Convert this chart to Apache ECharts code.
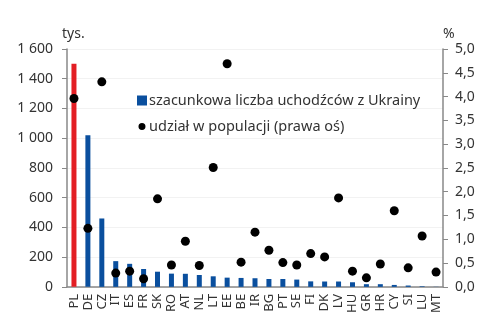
<!DOCTYPE html>
<html>
<head>
<meta charset="utf-8">
<script src="https://cdn.jsdelivr.net/npm/echarts@6/dist/echarts.min.js"></script>
<style>
  html, body { margin: 0; padding: 0; background: #fff; }
  #main { width: 492px; height: 316px; }
</style>
</head>
<body>
<div id="main"></div>
<script>
// kraje
var countries = ['PL', 'DE', 'CZ', 'IT', 'ES', 'FR', 'SK', 'RO', 'AT', 'NL', 'LT', 'EE', 'BE', 'IR',
  'BG', 'PT', 'SE', 'FI', 'DK', 'LV', 'HU', 'GR', 'HR', 'CY', 'SI', 'LU', 'MT'];
// szacunkowa liczba uchodzcow, tys.
var refugees = [1500, 1020, 460, 173, 155, 120, 102, 89, 88, 80, 71, 62, 60, 58,
  53, 53, 49, 37, 36, 36, 31, 18, 18, 13, 9, 4, 1];
// udzial w populacji, %
var share = [3.96, 1.23, 4.31, 0.29, 0.33, 0.17, 1.85, 0.46, 0.96, 0.45, 2.51, 4.69, 0.52, 1.15,
  0.77, 0.51, 0.46, 0.70, 0.63, 1.87, 0.33, 0.19, 0.48, 1.60, 0.40, 1.07, 0.31];
var leftTicks = [0, 1600, 200];
var rightTicks = [0, 5, 0.5];

var font = 'Noto Sans';
var textColor = '#333';
var axisColor = '#888';

var barData = refugees.map(function (v, i) {
  return i == 0 ? { value: v, itemStyle: { color: '#e31e24' } } : v;
});

var chart = echarts.init(document.getElementById('main'), null, { renderer: 'canvas' });
chart.setOption({
  animation: false,
  textStyle: { fontFamily: font },
  grid: { left: 67, right: 49, top: 49, bottom: 27 },
  legend: {
    orient: 'vertical',
    left: 132,
    top: 88,
    itemGap: 11,
    itemWidth: 10,
    itemHeight: 10,
    textStyle: { fontFamily: font, fontSize: 14.5, color: textColor, padding: [0, 0, 0, -3] },
    data: [
      { name: 'szacunkowa liczba uchodźców z Ukrainy', icon: 'rect' },
      // mniejsza kropka w legendzie
      { name: 'udział w populacji (prawa oś)', icon: 'path://M0,0L0.01,0M10,10L10.01,10M5,1.5A3.5,3.5,0,1,1,4.99,1.5Z' }
    ]
  },
  xAxis: {
    type: 'category',
    data: countries,
    axisLine: { lineStyle: { color: axisColor, width: 1.5 } },
    axisTick: { length: 5, lineStyle: { color: axisColor } },
    axisLabel: { rotate: 90, interval: 0, margin: 7, fontSize: 13, color: textColor, fontFamily: font }
  },
  yAxis: [{
    type: 'value',
    name: 'tys.',
    nameGap: 8,
    nameTextStyle: { fontSize: 14, color: textColor, align: 'left', padding: [0, 0, 0, -5], fontFamily: font },
    min: leftTicks[0], max: leftTicks[1], interval: leftTicks[2],
    axisLine: { show: true, lineStyle: { color: axisColor, width: 1.5 } },
    axisTick: { show: true, length: 5, lineStyle: { color: axisColor } },
    splitLine: { lineStyle: { color: '#f2f2f2' } },
    axisLabel: {
      fontSize: 14, color: textColor, margin: 14, fontFamily: font,
      formatter: function (v) { return String(v).replace(/\B(?=(\d{3})+(?!\d))/g, ' '); }
    }
  }, {
    type: 'value',
    name: '%',
    nameGap: 8,
    nameTextStyle: { fontSize: 14, color: textColor, align: 'left', fontFamily: font },
    min: rightTicks[0], max: rightTicks[1], interval: rightTicks[2],
    axisLine: { show: true, lineStyle: { color: axisColor, width: 1.5 } },
    axisTick: { show: true, length: 5, lineStyle: { color: axisColor } },
    splitLine: { show: false },
    axisLabel: {
      fontSize: 14, color: textColor, margin: 12, fontFamily: font,
      formatter: function (v) { return v.toFixed(1).replace('.', ','); }
    }
  }],
  series: [{
    name: 'szacunkowa liczba uchodźców z Ukrainy',
    type: 'bar',
    data: barData,
    barWidth: 5,
    itemStyle: { color: '#0a4f9e' }
  }, {
    name: 'udział w populacji (prawa oś)',
    type: 'scatter',
    yAxisIndex: 1,
    data: share,
    symbolSize: 9,
    itemStyle: { color: '#000', opacity: 1 }
  }]
});
</script>
</body>
</html>
